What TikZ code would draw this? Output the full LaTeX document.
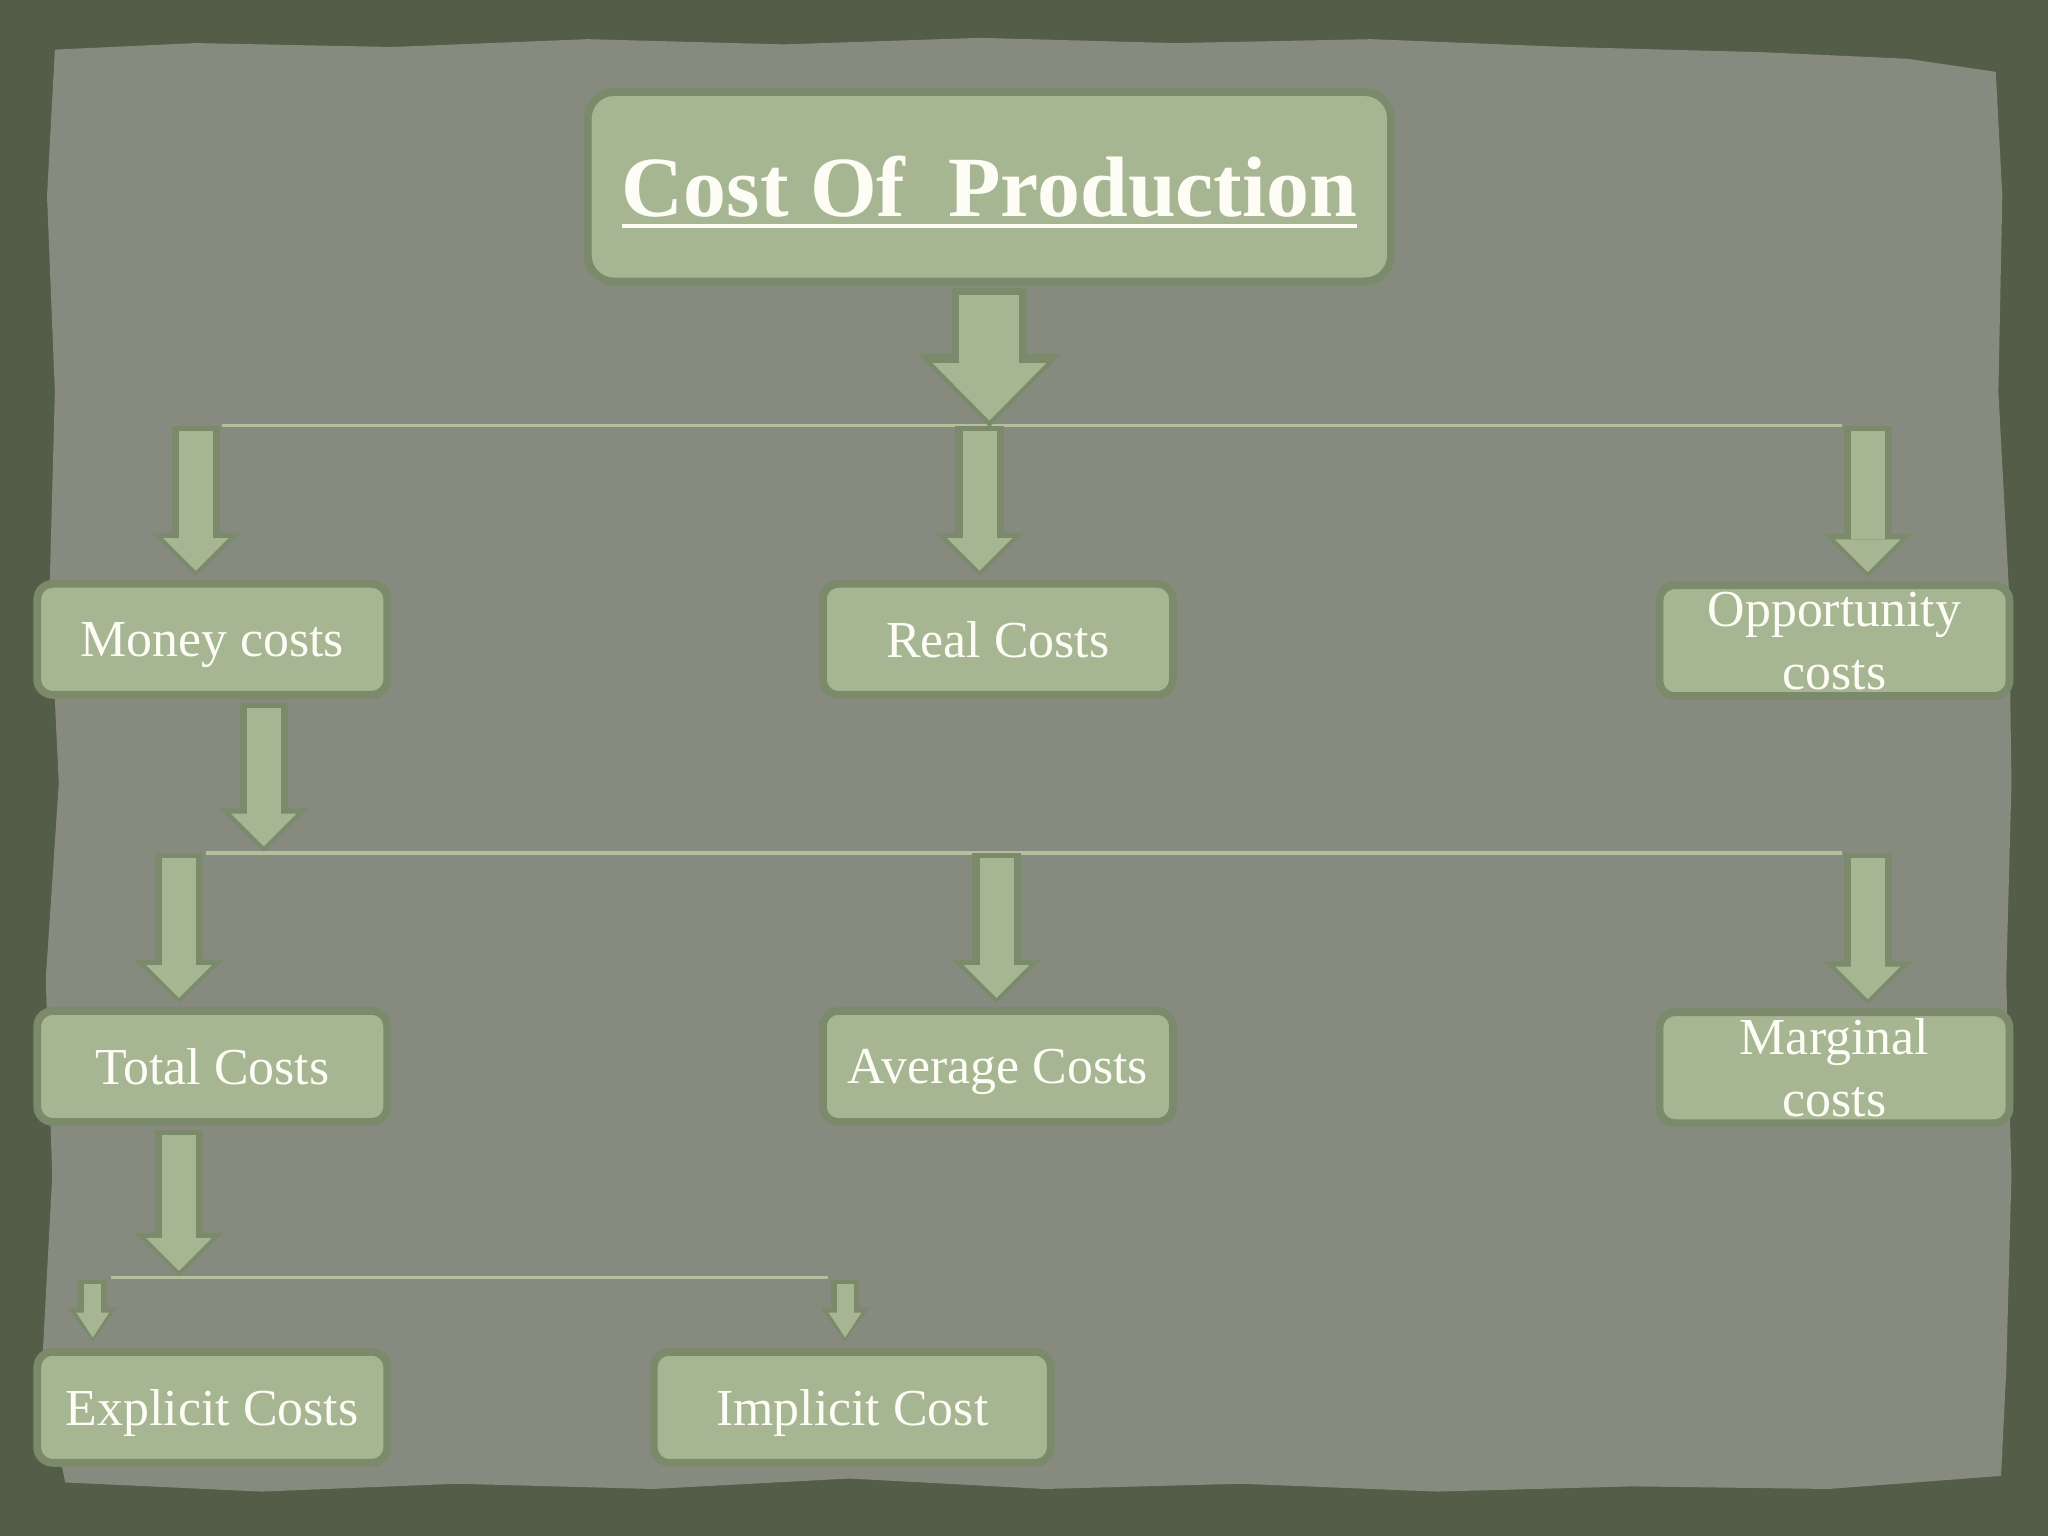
\documentclass[tikz,border=0pt]{standalone}
\usepackage{fontspec}
\setmainfont{Liberation Serif}
\usepackage{tikz}
\usetikzlibrary{arrows.meta}
\definecolor{bgdark}{HTML}{535D47}
\definecolor{paper}{HTML}{878A7E}
\definecolor{boxfill}{HTML}{A6B592}
\definecolor{boxedge}{HTML}{7B8A6B}
\definecolor{busline}{HTML}{B3BF9D}
\definecolor{txtwhite}{HTML}{FDFDF5}
\newcommand{\titleline}[1]{\sbox0{#1}\rlap{\usebox0}\rule[-2.3pt]{\wd0}{0.85pt}}
\tikzset{%
  every box/.style={
    rectangle,
    rounded corners=0.12cm,
    fill=boxfill,
    draw=boxedge,
    line width=0.06cm,
    text=txtwhite,
    align=center,
    text depth=0pt,
    minimum width=2.68cm,
    minimum height=0.85cm,
    font=\fontsize{11.3}{12.8}\selectfont
  },
  two lines/.style={inner ysep=0pt, yshift=-0.01cm, font=\fontsize{11.3}{13.6}\selectfont},
  title box/.style={
    every box,
    rounded corners=0.2cm,
    minimum width=6.15cm,
    minimum height=1.45cm,
    font=\fontsize{18.7}{22}\selectfont\bfseries
  },
  bus/.style={draw=busline, line width=0.025cm},
  bigarr/.style={
    draw=boxfill, line width=0.46cm,
    -{Triangle[length=0.44cm, width=0.87cm, line width=0pt]},
    preaction={draw=boxedge, line width=0.58cm, shorten <=-0.05cm, shorten >=-0.05cm,
      -{Triangle[length=0.56cm, width=1.1cm, line width=0pt]}}
  },
  midarr/.style={
    draw=boxfill, line width=0.26cm,
    -{Triangle[length=0.25cm, width=0.50cm, line width=0pt]},
    preaction={draw=boxedge, line width=0.37cm, shorten <=-0.04cm, shorten >=-0.04cm,
      -{Triangle[length=0.33cm, width=0.68cm, line width=0pt]}}
  },
  smallarr/.style={
    draw=boxfill, line width=0.13cm,
    -{Triangle[length=0.19cm, width=0.25cm, line width=0pt]},
    preaction={draw=boxedge, line width=0.22cm, shorten <=-0.03cm, shorten >=-0.03cm,
      -{Triangle[length=0.26cm, width=0.38cm, line width=0pt]}}
  },
}

\begin{document}
\begin{tikzpicture}
    \useasboundingbox (0,0) rectangle (15.68,-11.76);
    % backdrop and torn paper sheet
    \fill[bgdark] (0,0) rectangle (15.68,-11.76);
    \fill[paper] (0.42,-0.38) -- (1.5,-0.33) -- (3.0,-0.36) -- (4.5,-0.30) -- (6.0,-0.34)
      -- (7.5,-0.29) -- (9.0,-0.33) -- (10.5,-0.30) -- (12.0,-0.36) -- (13.5,-0.40)
      -- (14.6,-0.45) -- (15.28,-0.55) -- (15.33,-1.5) -- (15.30,-3.0) -- (15.38,-4.5)
      -- (15.40,-6.0) -- (15.36,-7.5) -- (15.40,-9.0) -- (15.36,-10.5) -- (15.32,-11.30)
      -- (14.0,-11.40) -- (12.5,-11.38) -- (11.0,-11.42) -- (9.5,-11.36) -- (8.0,-11.40)
      -- (6.5,-11.32) -- (5.0,-11.40) -- (3.5,-11.36) -- (2.0,-11.42) -- (0.5,-11.35)
      -- (0.32,-10.5) -- (0.40,-9.0) -- (0.35,-7.5) -- (0.45,-6.0) -- (0.38,-4.5)
      -- (0.42,-3.0) -- (0.36,-1.5) -- cycle;

    % boxes
    \node[title box] (cop) at (7.575,-1.43) {\titleline{Cost Of\ \ Production}};
    \node[every box] (money) at (1.625,-4.895) {Money costs};
    \node[every box] (real) at (7.64,-4.895) {Real Costs};
    \node[every box, two lines] (opp) at (14.045,-4.895) {Opportunity\\costs};
    \node[every box] (total) at (1.625,-8.165) {Total Costs};
    \node[every box] (avg) at (7.64,-8.165) {Average Costs};
    \node[every box, two lines] (marg) at (14.045,-8.165) {Marginal\\costs};
    \node[every box] (expl) at (1.625,-10.775) {Explicit Costs};
    \node[every box, minimum width=3.04cm] (impl) at (6.525,-10.775) {Implicit Cost};

    % branch lines
    \coordinate (b1l) at (1.70,-3.26);
    \coordinate (b1r) at (14.10,-3.26);
    \coordinate (b2l) at (1.58,-6.53);
    \coordinate (b2r) at (14.10,-6.53);
    \coordinate (b3l) at (0.85,-9.78);
    \coordinate (b3r) at (6.34,-9.78);
    \draw[bus] (b1l) -- (b1r);
    \draw[bus] (b2l) -- (b2r);
    \draw[bus] (b3l) -- (b3r);

    % arrows
    \draw[bigarr] ([yshift=-0.07cm]cop.south) -- ([yshift=0.04cm]cop.south |- b1l);
    \draw[midarr] ([xshift=-0.125cm,yshift=-0.04cm]money.north |- b1l) -- ([xshift=-0.125cm,yshift=0.07cm]money.north);
    \draw[midarr] ([xshift=-0.14cm,yshift=-0.04cm]real.north |- b1l) -- ([xshift=-0.14cm,yshift=0.07cm]real.north);
    \draw[midarr] ([xshift=0.255cm,yshift=-0.04cm]opp.north |- b1l) -- ([xshift=0.255cm,yshift=0.07cm]opp.north);
    \draw[midarr] ([xshift=0.395cm,yshift=-0.07cm]money.south) -- ([xshift=0.395cm,yshift=0.05cm]money.south |- b2l);
    \draw[midarr] ([xshift=-0.255cm,yshift=-0.04cm]total.north |- b2l) -- ([xshift=-0.255cm,yshift=0.07cm]total.north);
    \draw[midarr] ([xshift=-0.01cm,yshift=-0.04cm]avg.north |- b2l) -- ([xshift=-0.01cm,yshift=0.07cm]avg.north);
    \draw[midarr] ([xshift=0.255cm,yshift=-0.04cm]marg.north |- b2l) -- ([xshift=0.255cm,yshift=0.07cm]marg.north);
    \draw[midarr] ([xshift=-0.255cm,yshift=-0.07cm]total.south) -- ([xshift=-0.255cm,yshift=0.05cm]total.south |- b3l);
    \draw[smallarr] ([xshift=-0.915cm,yshift=-0.05cm]expl.north |- b3l) -- ([xshift=-0.915cm,yshift=0.08cm]expl.north);
    \draw[smallarr] ([xshift=-0.055cm,yshift=-0.05cm]impl.north |- b3l) -- ([xshift=-0.055cm,yshift=0.08cm]impl.north);
\end{tikzpicture}
\end{document}
